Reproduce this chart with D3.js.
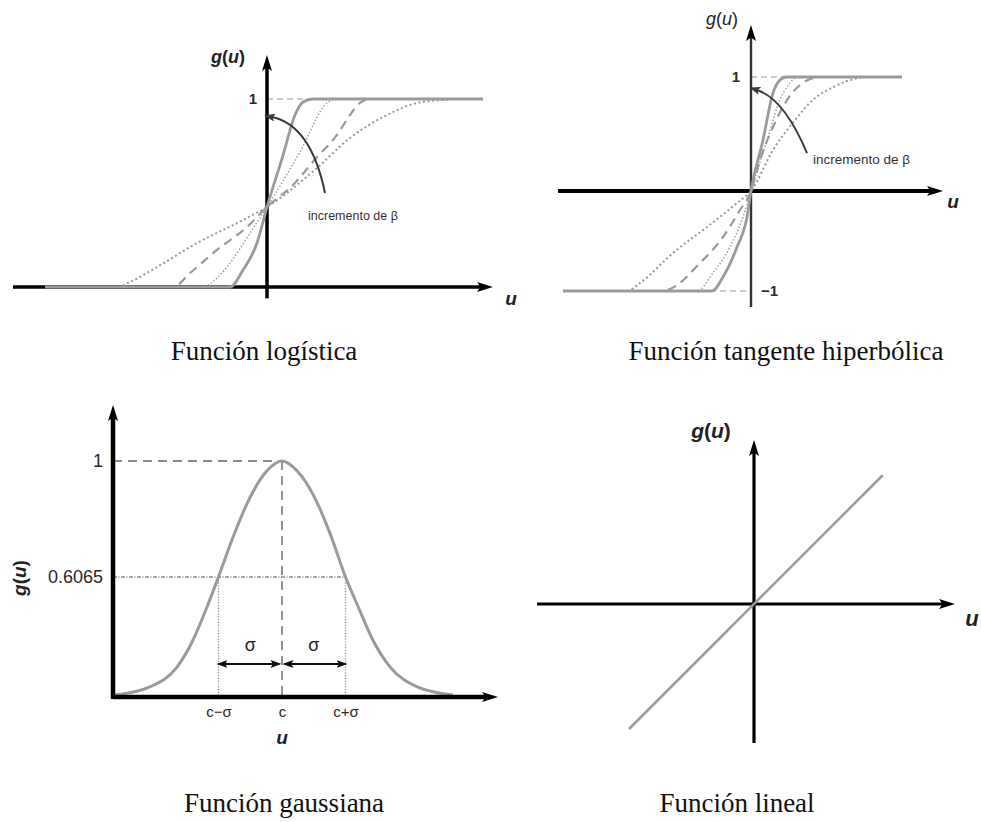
<!DOCTYPE html>
<html>
<head>
<meta charset="utf-8">
<script src="https://cdn.jsdelivr.net/npm/d3@7"></script>
<style>
  body { margin: 0; background: #fff; }
  text { font-family: "Liberation Sans", Arial, sans-serif; }
</style>
</head>
<body>
<svg id="chart" width="981" height="822"></svg>
<script>
// ---------- data ----------
// Logistic curves, from the smallest beta (b1) to the largest (b4)
const logisticU_b1 = [-11.1, -7.5, -6.85, -5.5, -3.5, -1.2, 0, 2.5, 4.15, 5.8, 7.5, 8.8, 9.65, 10.8];
const logisticG_b1 = [0, 0, 0.027, 0.106, 0.234, 0.356, 0.426, 0.633, 0.793, 0.904, 0.979, 0.995, 1, 1];
const logisticU_b2 = [-11.1, -4.7, -3.85, -2.5, -1.0, 0, 1.3, 2.5, 3.5, 4.15, 4.65, 5.15, 10.8];
const logisticG_b2 = [0, 0, 0.074, 0.197, 0.319, 0.426, 0.543, 0.691, 0.809, 0.915, 0.979, 1, 1];
const logisticU_b3 = [-11.1, -3.25, -2.5, -1.85, -0.85, 0, 1.65, 3.0, 3.5, 10.8];
const logisticG_b3 = [0, 0, 0.048, 0.128, 0.287, 0.426, 0.718, 0.979, 1, 1];
const logisticU_b4 = [-11.1, -1.85, -1.2, -0.5, 0, 0.8, 1.4, 1.8, 2.3, 10.8];
const logisticG_b4 = [0, 0, 0.09, 0.234, 0.426, 0.70, 0.915, 0.984, 1, 1];

// Hyperbolic tangent curves, smallest beta (b1) to largest (b4)
const tanhU_b1 = [-9.4, -6.2, -5.55, -3.9, -2.2, -0.7, 0, 1.1, 2.1, 3.1, 4.1, 5.1, 5.7, 7.55];
const tanhG_b1 = [-1, -1, -0.92, -0.62, -0.36, -0.12, 0, 0.36, 0.60, 0.80, 0.91, 0.98, 1, 1];
const tanhU_b2 = [-9.4, -4.55, -4.05, -2.55, -1.4, -0.55, 0, 0.45, 1.1, 1.8, 2.45, 3.1, 3.55, 7.55];
const tanhG_b2 = [-1, -1, -0.98, -0.72, -0.46, -0.19, 0, 0.272, 0.561, 0.798, 0.93, 0.99, 1, 1];
const tanhU_b3 = [-9.4, -2.7, -1.9, -1.05, -0.4, 0, 0.85, 1.45, 1.95, 2.3, 7.55];
const tanhG_b3 = [-1, -1, -0.82, -0.56, -0.26, 0, 0.474, 0.80, 0.947, 1, 1];
const tanhU_b4 = [-9.4, -1.95, -1.4, -0.7, -0.2, 0, 0.6, 1.1, 1.4, 1.75, 7.55];
const tanhG_b4 = [-1, -1, -0.86, -0.56, -0.26, 0, 0.447, 0.86, 0.965, 1, 1];

// Gaussian curve (u measured in units of sigma around c)
const gaussU = [-2.63, -2.08, -1.65, -1.40, -1.18, -1.0, -0.77, -0.50, -0.24, 0, 0.24, 0.49, 0.76, 1.0, 1.20, 1.43, 1.70, 2.13, 2.69];
const gaussG = [0.010, 0.051, 0.152, 0.288, 0.455, 0.6065, 0.742, 0.878, 0.966, 1, 0.966, 0.886, 0.752, 0.6065, 0.455, 0.288, 0.152, 0.051, 0.010];
const gaussTickU = [-1, 0, 1];
const gaussTickLabels = ["c\u2212\u03c3", "c", "c+\u03c3"];
const gaussLevels = [1, 0.6065];
const gaussLevelLabels = ["1", "0.6065"];

// Linear function
const linearU = [-5, 5.15];
const linearG = [-5, 5.15];

const captions = ["Función logística", "Función tangente hiperbólica", "Función gaussiana", "Función lineal"];

// ---------- setup ----------
const svg = d3.select("#chart");
const defs = svg.append("defs");
const CURVE_GRAY = "#9b9b9b";

function marker(id, len, wid, color, refX, orient) {
  defs.append("marker")
    .attr("id", id)
    .attr("viewBox", `0 ${-wid / 2} ${len} ${wid}`)
    .attr("markerUnits", "userSpaceOnUse")
    .attr("markerWidth", len).attr("markerHeight", wid)
    .attr("refX", refX).attr("refY", 0)
    .attr("orient", orient || "auto")
    .append("path")
    .attr("d", `M0,${-wid / 2} L${len},0 L0,${wid / 2} L${len * 0.22},0 Z`)
    .attr("fill", color);
}
marker("axisHead", 16, 10, "#000", 4);
marker("curveHead", 11, 8, "#3a3a3a", 3);
marker("sigmaHead", 11, 8, "#111", 9, "auto-start-reverse");

// Axis line ending with an arrow tip at (x2, y2)
function axisArrow(g, x1, y1, x2, y2, width, color) {
  const len = Math.hypot(x2 - x1, y2 - y1);
  const k = (len - 12) / len;
  g.append("line")
    .attr("x1", x1).attr("y1", y1)
    .attr("x2", x1 + (x2 - x1) * k).attr("y2", y1 + (y2 - y1) * k)
    .attr("stroke", color || "#000").attr("stroke-width", width)
    .attr("marker-end", "url(#axisHead)");
}

// Stroke styles for the four beta values, coarse dotted -> solid
const betaStyles = [
  { dash: "2,2.6", w: 2 },
  { dash: "9,6", w: 2.2 },
  { dash: "1.4,2", w: 1.5 },
  { dash: null, w: 2.8 }
];

function drawFamily(g, x, y, us, gs) {
  const line = d3.line().x(d => x(d[0])).y(d => y(d[1])).curve(d3.curveMonotoneX);
  us.forEach((u, i) => {
    g.append("path")
      .attr("d", line(d3.zip(u, gs[i])))
      .attr("fill", "none")
      .attr("stroke", CURVE_GRAY)
      .attr("stroke-width", betaStyles[i].w)
      .attr("stroke-dasharray", betaStyles[i].dash)
      .attr("stroke-linejoin", "round");
  });
}

function gLabel(parent, x, y, size, weight, rotate) {
  const t = parent.append("text")
    .attr("x", x).attr("y", y)
    .attr("text-anchor", "middle")
    .attr("dominant-baseline", "middle")
    .attr("font-size", size)
    .attr("font-weight", weight)
    .attr("fill", "#222");
  if (rotate) t.attr("transform", `rotate(-90 ${x} ${y})`);
  t.append("tspan").attr("font-style", "italic").text("g");
  t.append("tspan").text("(");
  t.append("tspan").attr("font-style", "italic").text("u");
  t.append("tspan").text(")");
  return t;
}

function uLabel(parent, x, y, size) {
  parent.append("text")
    .attr("x", x).attr("y", y)
    .attr("text-anchor", "middle").attr("dominant-baseline", "middle")
    .attr("font-size", size).attr("font-weight", "bold").attr("font-style", "italic")
    .attr("fill", "#222").text("u");
}

function curvedArrow(g, x, y, p0, c, p1) {
  const path = d3.path();
  path.moveTo(x(p0[0]), y(p0[1]));
  path.quadraticCurveTo(x(c[0]), y(c[1]), x(p1[0]), y(p1[1]));
  g.append("path").attr("d", path.toString())
    .attr("fill", "none").attr("stroke", "#3a3a3a").attr("stroke-width", 2)
    .attr("marker-end", "url(#curveHead)");
}

function styleTicks(axisG, size, weight) {
  axisG.select(".domain").remove();
  axisG.selectAll("text")
    .attr("font-family", "Liberation Sans, Arial, sans-serif")
    .attr("font-size", size).attr("font-weight", weight).attr("fill", "#2a2a2a");
}

// ---------- logistic ----------
{
  const g = svg.append("g");
  const x = d3.scaleLinear().domain([-12.7, 11.3]).range([13, 493]);
  const y = d3.scaleLinear().domain([0, 1]).range([287, 99]);

  g.append("line")
    .attr("x1", x(0)).attr("x2", x(2.2)).attr("y1", y(1)).attr("y2", y(1))
    .attr("stroke", "#999").attr("stroke-width", 1.2).attr("stroke-dasharray", "6,4");

  axisArrow(g, x(-12.7), y(0), x(11.3), y(0), 3.5);
  axisArrow(g, x(0), y(-0.06), x(0), y(1.234), 3.5);

  drawFamily(g, x, y,
    [logisticU_b1, logisticU_b2, logisticU_b3, logisticU_b4],
    [logisticG_b1, logisticG_b2, logisticG_b3, logisticG_b4]);

  const ax = g.append("g").attr("transform", `translate(${x(0)},0)`)
    .call(d3.axisLeft(y).tickValues([1]).tickFormat(() => "1").tickSize(0).tickPadding(10));
  styleTicks(ax, 15, "bold");

  curvedArrow(g, x, y, [2.9, 0.5], [2.2, 0.86], [0.25, 0.904]);
  g.append("text").attr("x", x(2.05)).attr("y", y(0.372))
    .attr("dominant-baseline", "middle").attr("font-size", 12.5)
    .attr("fill", "#333").text("incremento de \u03b2");

  gLabel(g, 228, 58, 18, "bold");
  uLabel(g, 511, 300, 19);
}

// ---------- hyperbolic tangent ----------
{
  const g = svg.append("g");
  const x = d3.scaleLinear().domain([-9.65, 9.6]).range([558, 943]);
  const y = d3.scaleLinear().domain([-1, 0, 1]).range([291, 191, 77]);

  g.append("line")
    .attr("x1", x(0)).attr("x2", x(1.8)).attr("y1", y(1)).attr("y2", y(1))
    .attr("stroke", "#999").attr("stroke-width", 1.2).attr("stroke-dasharray", "6,4");
  g.append("line")
    .attr("x1", x(-2.05)).attr("x2", x(0)).attr("y1", y(-1)).attr("y2", y(-1))
    .attr("stroke", "#999").attr("stroke-width", 1.2).attr("stroke-dasharray", "6,4");

  axisArrow(g, x(-9.65), y(0), x(9.6), y(0), 4);
  axisArrow(g, x(0), y(-1.16), x(0), y(1.456), 2.4, "#333");

  drawFamily(g, x, y,
    [tanhU_b1, tanhU_b2, tanhU_b3, tanhU_b4],
    [tanhG_b1, tanhG_b2, tanhG_b3, tanhG_b4]);

  const axL = g.append("g").attr("transform", `translate(${x(0)},0)`)
    .call(d3.axisLeft(y).tickValues([1]).tickFormat(() => "1").tickSize(0).tickPadding(11));
  styleTicks(axL, 15, "bold");
  const axR = g.append("g").attr("transform", `translate(${x(0)},0)`)
    .call(d3.axisRight(y).tickValues([-1]).tickFormat(() => "\u22121").tickSize(0).tickPadding(10));
  styleTicks(axR, 15, "bold");

  curvedArrow(g, x, y, [2.8, 0.333], [1.65, 0.811], [0.3, 0.886]);
  g.append("text").attr("x", x(3.1)).attr("y", y(0.272))
    .attr("dominant-baseline", "middle").attr("font-size", 13.5)
    .attr("fill", "#333").text("incremento de \u03b2");

  gLabel(g, 722, 20, 18, "normal");
  uLabel(g, 953, 203, 19);
}

// ---------- gaussian ----------
{
  const g = svg.append("g");
  const x = d3.scaleLinear().domain([-2.66, 3.40]).range([113, 498]);
  const y = d3.scaleLinear().domain([0, 0.6065, 1]).range([697, 577, 461]);

  // guide lines at the peak and at one sigma
  g.append("line")
    .attr("x1", x(-2.66)).attr("x2", x(0)).attr("y1", y(1)).attr("y2", y(1))
    .attr("stroke", "#8a8a8a").attr("stroke-width", 1.8).attr("stroke-dasharray", "9,6");
  g.append("line")
    .attr("x1", x(0)).attr("x2", x(0)).attr("y1", y(1)).attr("y2", y(0))
    .attr("stroke", "#8a8a8a").attr("stroke-width", 1.8).attr("stroke-dasharray", "9,6");
  g.append("line")
    .attr("x1", x(-2.66)).attr("x2", x(1)).attr("y1", y(0.6065)).attr("y2", y(0.6065))
    .attr("stroke", "#8a8a8a").attr("stroke-width", 1.3).attr("stroke-dasharray", "4,1.5,1,1.5");
  [-1, 1].forEach(u => {
    g.append("line")
      .attr("x1", x(u)).attr("x2", x(u)).attr("y1", y(0.6065)).attr("y2", y(0))
      .attr("stroke", "#8a8a8a").attr("stroke-width", 1.3).attr("stroke-dasharray", "1.2,1.6");
  });

  const line = d3.line().x(d => x(d[0])).y(d => y(d[1])).curve(d3.curveMonotoneX);
  g.append("path").attr("d", line(d3.zip(gaussU, gaussG)))
    .attr("fill", "none").attr("stroke", CURVE_GRAY).attr("stroke-width", 3);

  axisArrow(g, x(-2.66), y(0), x(3.40), y(0), 4.5);
  axisArrow(g, x(-2.66), y(0) + 2, x(-2.66), y(1.19), 4.5);

  // sigma double arrows
  const ya = y(0.167);
  [[-1, -0.04], [0.04, 1]].forEach(([a, b]) => {
    g.append("line").attr("x1", x(a)).attr("x2", x(b)).attr("y1", ya).attr("y2", ya)
      .attr("stroke", "#111").attr("stroke-width", 2)
      .attr("marker-start", "url(#sigmaHead)").attr("marker-end", "url(#sigmaHead)");
  });
  [-0.5, 0.5].forEach(u => {
    g.append("text").attr("x", x(u)).attr("y", y(0.258))
      .attr("text-anchor", "middle").attr("dominant-baseline", "middle")
      .attr("font-size", 18).attr("fill", "#222").text("\u03c3");
  });

  const ay = g.append("g").attr("transform", `translate(${x(-2.66)},0)`)
    .call(d3.axisLeft(y).tickValues(gaussLevels).tickFormat((d, i) => gaussLevelLabels[i]).tickSize(0).tickPadding(10));
  styleTicks(ay, 18, "normal");
  const axb = g.append("g").attr("transform", `translate(0,${y(0)})`)
    .call(d3.axisBottom(x).tickValues(gaussTickU).tickFormat((d, i) => gaussTickLabels[i]).tickSize(0).tickPadding(9));
  styleTicks(axb, 15, "normal");

  gLabel(g, 21, 578, 19, "bold", true);
  uLabel(g, 282, 739, 19);
}

// ---------- linear ----------
{
  const g = svg.append("g");
  const x = d3.scaleLinear().domain([-8.68, 8.04]).range([537, 955]);
  const y = d3.scaleLinear().domain([-5.56, 6.56]).range([743, 440]);

  axisArrow(g, x(-8.68), y(0), x(8.04), y(0), 3.2);
  axisArrow(g, x(0), y(-5.56), x(0), y(6.56), 3.2);

  const line = d3.line().x(d => x(d[0])).y(d => y(d[1]));
  g.append("path").attr("d", line(d3.zip(linearU, linearG)))
    .attr("fill", "none").attr("stroke", CURVE_GRAY).attr("stroke-width", 2.5);

  gLabel(g, 711, 432, 21, "bold");
  uLabel(g, 972, 620, 22);
}

// ---------- captions ----------
const capX = [264, 786, 284, 737];
const capY = [360, 360, 812, 812];
svg.selectAll("text.caption").data(captions).join("text")
  .attr("class", "caption")
  .attr("x", (d, i) => capX[i]).attr("y", (d, i) => capY[i])
  .attr("text-anchor", "middle")
  .style("font-family", "'Liberation Serif', 'Times New Roman', serif")
  .attr("font-size", 27).attr("fill", "#111")
  .text(d => d);
</script>
</body>
</html>
